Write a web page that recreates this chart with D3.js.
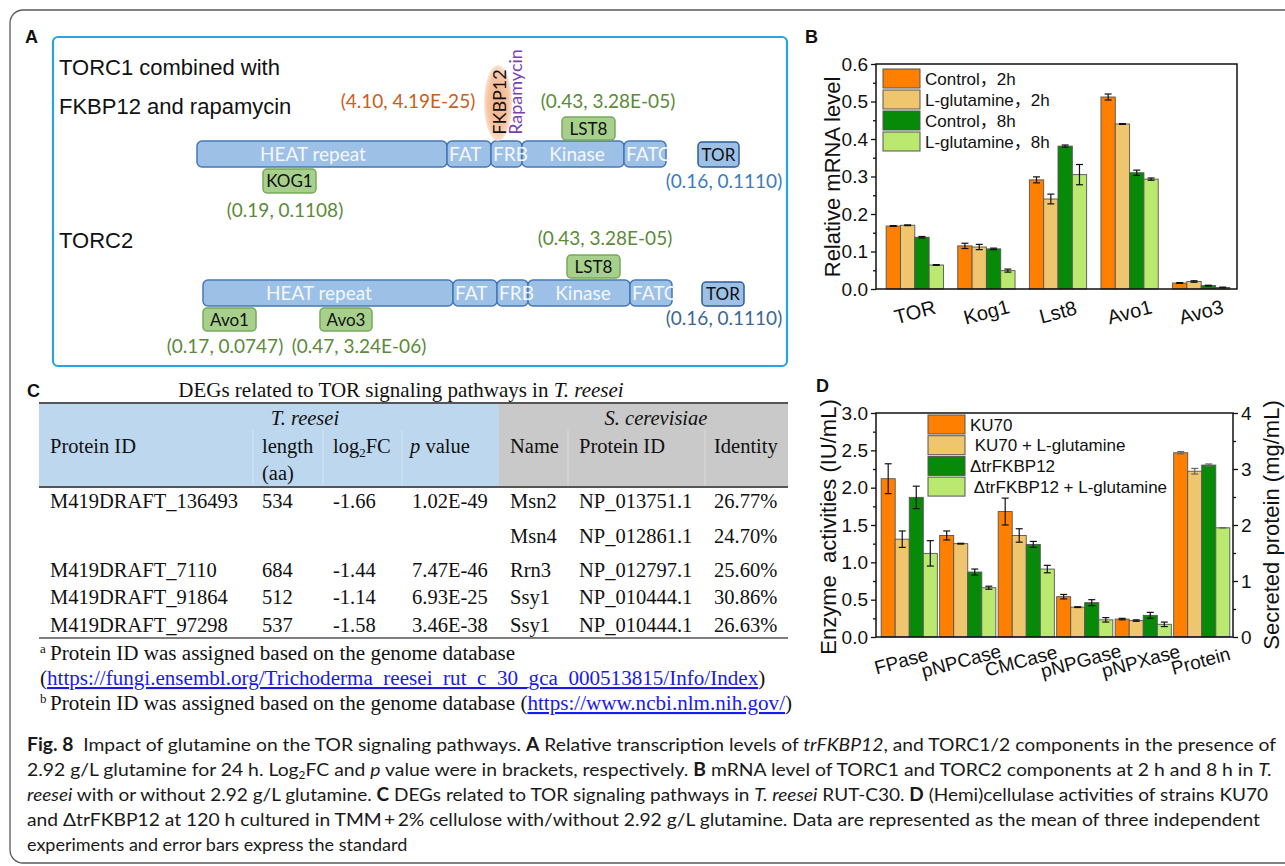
<!DOCTYPE html>
<html>
<head>
<meta charset="utf-8">
<script src="https://cdn.jsdelivr.net/npm/d3@7"></script>
<style>
  body { margin: 0; background: #fff; }
  svg { display: block; }
</style>
</head>
<body>
<script>
// ---------- Panel A: TORC1 / TORC2 components (log2FC, p value) ----------
const domainNames = ["HEAT repeat", "FAT", "FRB", "Kinase", "FATC"];
const domainSpans = [250, 44, 31, 102, 42];
const fkbpStat = "(4.10, 4.19E-25)";
const lst8Stat = "(0.43, 3.28E-05)";
const kog1Stat = "(0.19, 0.1108)";
const torStat = "(0.16, 0.1110)";
const avo1Stat = "(0.17, 0.0747)";
const avo3Stat = "(0.47, 3.24E-06)";

// ---------- Panel B: relative mRNA level ----------
const genes = ["TOR", "Kog1", "Lst8", "Avo1", "Avo3"];
const seriesB = ["Control，2h", "L-glutamine，2h", "Control，8h", "L-glutamine，8h"];
const control2h = [0.168, 0.115, 0.291, 0.512, 0.016];
const glutamine2h = [0.170, 0.112, 0.240, 0.440, 0.020];
const control8h = [0.138, 0.107, 0.381, 0.310, 0.009];
const glutamine8h = [0.064, 0.049, 0.305, 0.293, 0.004];
const control2hErr = [0.001, 0.007, 0.008, 0.008, 0.001];
const glutamine2hErr = [0.001, 0.007, 0.013, 0.001, 0.002];
const control8hErr = [0.002, 0.002, 0.003, 0.007, 0.001];
const glutamine8hErr = [0.001, 0.004, 0.027, 0.003, 0.001];
const ticksB = [0, 0.1, 0.2, 0.3, 0.4, 0.5, 0.6];

// ---------- Panel C: DEGs table ----------
const proteinIds = ["M419DRAFT_136493", "", "M419DRAFT_7110", "M419DRAFT_91864", "M419DRAFT_97298"];
const lengthsAa = ["534", "", "684", "512", "537"];
const log2FCs = ["-1.66", "", "-1.44", "-1.14", "-1.58"];
const pValues = ["1.02E-49", "", "7.47E-46", "6.93E-25", "3.46E-38"];
const yeastNames = ["Msn2", "Msn4", "Rrn3", "Ssy1", "Ssy1"];
const yeastIds = ["NP_013751.1", "NP_012861.1", "NP_012797.1", "NP_010444.1", "NP_010444.1"];
const identities = ["26.77%", "24.70%", "25.60%", "30.86%", "26.63%"];

// ---------- Panel D: enzyme activities and secreted protein ----------
const assays = ["FPase", "pNPCase", "CMCase", "pNPGase", "pNPXase", "Protein"];
const seriesD = ["KU70", " KU70 + L-glutamine", "\u0394trFKBP12", " \u0394trFKBP12 + L-glutamine"];
const ku70 = [2.12, 1.36, 1.68, 0.54, 0.24, 3.29];
const ku70Gln = [1.31, 1.25, 1.36, 0.40, 0.22, 2.96];
const dFkbp12 = [1.87, 0.87, 1.24, 0.46, 0.29, 3.07];
const dFkbp12Gln = [1.12, 0.66, 0.91, 0.23, 0.17, 1.95];
const ku70Err = [0.20, 0.06, 0.18, 0.03, 0.01, 0.02];
const ku70GlnErr = [0.11, 0.005, 0.09, 0.005, 0.01, 0.05];
const dFkbp12Err = [0.15, 0.04, 0.04, 0.04, 0.04, 0.02];
const dFkbp12GlnErr = [0.17, 0.02, 0.05, 0.03, 0.03, 0.0];
const ticksDLeft = [0, 0.5, 1.0, 1.5, 2.0, 2.5, 3.0];
const ticksDRight = [0, 1, 2, 3, 4];

const barColors = ["#ff8000", "#efc56e", "#078a07", "#bbe86e"];

const W = 1285, H = 866;
const svg = d3.select("body").append("svg").attr("width", W).attr("height", H)
  .style("font-family", "'Liberation Sans', Arial, sans-serif");

// outer figure frame
svg.append("rect").attr("x", 10).attr("y", 10).attr("width", 1300).attr("height", 853)
  .attr("rx", 13).attr("fill", "none").attr("stroke", "#5a5a5a").attr("stroke-width", 1.3);

// panel letters
[["A", 25, 43], ["B", 805, 43], ["C", 27, 397], ["D", 816, 392]].forEach(([t, x, y]) => {
  svg.append("text").attr("x", x).attr("y", y).text(t)
    .attr("font-weight", "bold").attr("font-size", 18).attr("fill", "#111");
});

// =================== Panel A ===================
const gA = svg.append("g").style("font-family", "Lato, 'Open Sans', sans-serif");
gA.append("rect").attr("x", 53).attr("y", 37).attr("width", 734).attr("height", 329).attr("rx", 5)
  .attr("fill", "none").attr("stroke", "#27a4e6").attr("stroke-width", 2.2);

const sans0 = "'Liberation Sans', Arial, sans-serif";
gA.append("text").attr("x", 59).attr("y", 75).text("TORC1 combined with")
  .attr("font-size", 22).attr("font-family", sans0).attr("fill", "#111");
gA.append("text").attr("x", 59).attr("y", 114).text("FKBP12 and rapamycin")
  .attr("font-size", 22).attr("font-family", sans0).attr("fill", "#111");
gA.append("text").attr("x", 59).attr("y", 248).text("TORC2")
  .attr("font-size", 22).attr("font-family", sans0).attr("fill", "#111");

// domain bars: cumulative offsets along the protein
const domainStarts = domainSpans.map((d, i) => d3.sum(domainSpans.slice(0, i)));
function drawTorBar(x0, y0, h) {
  const g = gA.append("g");
  g.selectAll("rect").data(domainNames).join("rect")
    .attr("x", (d, i) => x0 + domainStarts[i])
    .attr("y", y0).attr("width", (d, i) => domainSpans[i]).attr("height", h).attr("rx", 5)
    .attr("fill", "#9cc0e6").attr("stroke", "#4677b5").attr("stroke-width", 1.5);
  g.selectAll("text").data(domainNames).join("text")
    .attr("x", (d, i) => i === 0 ? x0 + domainStarts[i] + domainSpans[i] / 2 - 9 :
      (i === 3 ? x0 + domainStarts[i] + domainSpans[i] / 2 + 4 : x0 + domainStarts[i] + 2))
    .attr("y", y0 + h / 2 + 6.5).attr("text-anchor", (d, i) => (i === 0 || i === 3) ? "middle" : "start")
    .attr("font-size", 19).attr("fill", "#f4f7fc").text(d => d);
}
drawTorBar(197, 141, 26);
drawTorBar(203, 280, 26);

function labelBox(x, y, w, h, label, fill, stroke) {
  gA.append("rect").attr("x", x).attr("y", y).attr("width", w).attr("height", h).attr("rx", 4)
    .attr("fill", fill).attr("stroke", stroke).attr("stroke-width", 1.5);
  gA.append("text").attr("x", x + w / 2).attr("y", y + h / 2 + 6).attr("text-anchor", "middle")
    .attr("font-size", 17).attr("fill", "#111").text(label);
}
function stat(x, y, t, c) {
  gA.append("text").attr("x", x).attr("y", y).attr("text-anchor", "middle")
    .attr("font-size", 19).attr("fill", c).text(t);
}
const green = "#a8d08d", greenStroke = "#78a85a";
// TORC1 row
labelBox(263, 169, 53, 24, "KOG1", green, greenStroke);
stat(285, 217, kog1Stat, "#5b8a3a");
labelBox(562, 117, 53, 23, "LST8", green, greenStroke);
stat(608, 108, lst8Stat, "#5b8a3a");
labelBox(698, 142, 41, 25, "TOR", "#9cc0e6", "#2f5c96");
stat(724, 188, torStat, "#3a7cc0");
stat(408, 108, fkbpStat, "#c8601d");

// FKBP12 bound to rapamycin
const defs = svg.append("defs");
const rg = defs.append("radialGradient").attr("id", "fkbpGrad");
rg.append("stop").attr("offset", "0%").attr("stop-color", "#f2b085");
rg.append("stop").attr("offset", "75%").attr("stop-color", "#f6c6a6");
rg.append("stop").attr("offset", "100%").attr("stop-color", "#fbe3d3");
gA.append("ellipse").attr("cx", 498).attr("cy", 103).attr("rx", 14).attr("ry", 38)
  .attr("fill", "url(#fkbpGrad)");
gA.append("text").attr("transform", "translate(506,102) rotate(-90)").attr("text-anchor", "middle")
  .attr("font-size", 18).attr("fill", "#111").text("FKBP12");
gA.append("text").attr("transform", "translate(522,92) rotate(-90)").attr("text-anchor", "middle")
  .attr("font-size", 18).attr("fill", "#7a3fb0").text("Rapamycin");

// TORC2 row
labelBox(567, 255, 53, 23, "LST8", green, greenStroke);
stat(605, 245, lst8Stat, "#5b8a3a");
labelBox(702, 282, 42, 24, "TOR", "#9cc0e6", "#2f5c96");
stat(724, 325, torStat, "#3b6791");
labelBox(203, 308, 53, 23, "Avo1", green, greenStroke);
labelBox(320, 308, 52, 23, "Avo3", green, greenStroke);
stat(225, 353, avo1Stat, "#5b8a3a");
stat(359, 353, avo3Stat, "#5b8a3a");

// =================== Grouped bar helper ===================
function groupedBars(g, cats, seriesVals, seriesErr, xScale, yFor, errColorFor) {
  const sub = d3.scaleBand().domain(d3.range(seriesVals.length)).range([0, xScale.bandwidth()]);
  cats.forEach((c, ci) => {
    const y = yFor(ci);
    seriesVals.forEach((vals, si) => {
      const x = xScale(c) + sub(si);
      g.append("rect").attr("x", x).attr("y", y(vals[ci]))
        .attr("width", sub.bandwidth()).attr("height", y(0) - y(vals[ci]))
        .attr("fill", barColors[si]).attr("stroke", "#555").attr("stroke-width", 0.9);
      const e = seriesErr[si][ci];
      const cx = x + sub.bandwidth() / 2;
      const col = errColorFor(ci);
      const y1 = y(vals[ci] + e), y2 = y(vals[ci] - e);
      g.append("line").attr("x1", cx).attr("x2", cx).attr("y1", y1).attr("y2", y2)
        .attr("stroke", col).attr("stroke-width", 1.2);
      [y1, y2].forEach(yy => g.append("line").attr("x1", cx - 3.5).attr("x2", cx + 3.5)
        .attr("y1", yy).attr("y2", yy).attr("stroke", col).attr("stroke-width", 1.2));
    });
  });
}
function styleAxis(sel, size) {
  sel.select(".domain").remove();
  sel.selectAll(".tick line").attr("stroke", "#111").attr("stroke-width", 1.3);
  sel.selectAll(".tick text").attr("font-size", size).attr("fill", "#111")
    .attr("font-family", "'Liberation Sans', Arial, sans-serif");
}

// =================== Panel B ===================
const gB = svg.append("g");
const bL = 876, bR = 1237, bT = 64, bBt = 289;
const yB = d3.scaleLinear().domain([0, 0.6]).range([bBt, bT]);
const xB = d3.scaleBand().domain(genes).range([879, bR]).paddingInner(0.2).paddingOuter(0.1);
groupedBars(gB, genes, [control2h, glutamine2h, control8h, glutamine8h],
  [control2hErr, glutamine2hErr, control8hErr, glutamine8hErr], xB, () => yB, () => "#111");
const axB = gB.append("g").attr("transform", `translate(${bL},0)`)
  .call(d3.axisLeft(yB).tickValues(ticksB).tickFormat(d3.format(".1f")).tickSize(5).tickPadding(3));
styleAxis(axB, 19);
const axBm = gB.append("g").attr("transform", `translate(${bL},0)`)
  .call(d3.axisLeft(yB).tickValues(ticksB.slice(0, -1).map(t => t + 0.05)).tickFormat("").tickSize(3));
styleAxis(axBm, 19);
gB.append("rect").attr("x", bL).attr("y", bT).attr("width", bR - bL).attr("height", bBt - bT)
  .attr("fill", "none").attr("stroke", "#111").attr("stroke-width", 1.5);
gB.append("text").attr("transform", "translate(832,177) rotate(-90)").attr("text-anchor", "middle")
  .attr("dominant-baseline", "central").attr("font-size", 22).attr("fill", "#111").text("Relative mRNA level");
genes.forEach(g0 => {
  gB.append("text").attr("transform", `translate(${xB(g0) + xB.bandwidth() / 2},312) rotate(-15)`)
    .attr("text-anchor", "middle").attr("dominant-baseline", "central")
    .attr("font-size", 20).attr("fill", "#111").text(g0);
});
seriesB.forEach((s, i) => {
  const yy = 69 + i * 21;
  gB.append("rect").attr("x", 883).attr("y", yy).attr("width", 37).attr("height", 19)
    .attr("fill", barColors[i]).attr("stroke", "#555").attr("stroke-width", 1);
  gB.append("text").attr("x", 925).attr("y", yy + 15.5).attr("font-size", 17).attr("fill", "#111")
    .attr("font-family", "'Liberation Sans', 'Noto Sans CJK SC', sans-serif").text(s);
});

// =================== Panel D ===================
const gD = svg.append("g");
const dL = 876, dR = 1233, dT = 413, dBt = 637;
const yDL = d3.scaleLinear().domain([0, 3]).range([dBt, dT]);
const yDR = d3.scaleLinear().domain([0, 4]).range([dBt, dT]);
const xD = d3.scaleBand().domain(assays).range([880, 1231]).paddingInner(0.04).paddingOuter(0.02);
groupedBars(gD, assays, [ku70, ku70Gln, dFkbp12, dFkbp12Gln],
  [ku70Err, ku70GlnErr, dFkbp12Err, dFkbp12GlnErr], xD,
  ci => assays[ci] === "Protein" ? yDR : yDL,
  ci => assays[ci] === "Protein" ? "#666" : "#111");
const axDL = gD.append("g").attr("transform", `translate(${dL},0)`)
  .call(d3.axisLeft(yDL).tickValues(ticksDLeft).tickFormat(d3.format(".1f")).tickSize(5).tickPadding(3));
styleAxis(axDL, 19);
const axDLm = gD.append("g").attr("transform", `translate(${dL},0)`)
  .call(d3.axisLeft(yDL).tickValues(ticksDLeft.slice(0, -1).map(t => t + 0.25)).tickFormat("").tickSize(3));
styleAxis(axDLm, 19);
const axDR = gD.append("g").attr("transform", `translate(${dR},0)`)
  .call(d3.axisRight(yDR).tickValues(ticksDRight).tickFormat(d3.format("d")).tickSize(5).tickPadding(3));
styleAxis(axDR, 19);
const axDRm = gD.append("g").attr("transform", `translate(${dR},0)`)
  .call(d3.axisRight(yDR).tickValues(ticksDRight.slice(0, -1).map(t => t + 0.5)).tickFormat("").tickSize(3));
styleAxis(axDRm, 19);
gD.append("rect").attr("x", dL).attr("y", dT).attr("width", dR - dL).attr("height", dBt - dT)
  .attr("fill", "none").attr("stroke", "#111").attr("stroke-width", 1.5);
gD.append("text").attr("transform", "translate(828,527) rotate(-90)").attr("text-anchor", "middle")
  .attr("dominant-baseline", "central").attr("font-size", 22).attr("fill", "#111")
  .style("white-space", "pre").text("Enzyme  activities (IU/mL)");
gD.append("text").attr("transform", "translate(1271,525) rotate(-90)").attr("text-anchor", "middle")
  .attr("dominant-baseline", "central").attr("font-size", 22).attr("fill", "#111").text("Secreted protein (mg/mL)");
assays.forEach((a, i) => {
  gD.append("text").attr("transform", `translate(${xD(a) + xD.bandwidth() / 2 - (8 - i * 1.4)},661) rotate(-15)`)
    .attr("text-anchor", "middle").attr("dominant-baseline", "central")
    .attr("font-size", 19).attr("fill", "#111").text(a);
});
seriesD.forEach((s, i) => {
  const yy = 415 + i * 20.7;
  gD.append("rect").attr("x", 928).attr("y", yy).attr("width", 37).attr("height", 19)
    .attr("fill", barColors[i]).attr("stroke", "#555").attr("stroke-width", 1);
  gD.append("text").attr("x", 970).attr("y", yy + 15.5).attr("font-size", 17).attr("fill", "#111")
    .style("white-space", "pre").text(s);
});

// =================== Panel C: table ===================
const gC = svg.append("g").style("font-family", "'Liberation Serif', 'Times New Roman', serif")
  .attr("fill", "#111");
const tL = 39, tR = 788, tSplit = 499;
const title = gC.append("text").attr("x", 401).attr("y", 397).attr("text-anchor", "middle").attr("font-size", 21);
title.append("tspan").text("DEGs related to TOR signaling pathways in ");
title.append("tspan").attr("font-style", "italic").text("T. reesei");

gC.append("rect").attr("x", tL).attr("y", 404).attr("width", tSplit - tL).attr("height", 83).attr("fill", "#bdd7ee");
gC.append("rect").attr("x", tSplit).attr("y", 404).attr("width", tR - tSplit).attr("height", 83).attr("fill", "#c9c9c9");
// faint column separators in the header
[253, 323, 402, 568, 705].forEach(x => gC.append("line").attr("x1", x).attr("x2", x).attr("y1", 430).attr("y2", 487)
  .attr("stroke", "#fff").attr("stroke-opacity", 0.35).attr("stroke-width", 1));
gC.append("line").attr("x1", tL).attr("x2", tR).attr("y1", 403).attr("y2", 403).attr("stroke", "#555").attr("stroke-width", 2);
gC.append("line").attr("x1", tL).attr("x2", tR).attr("y1", 487).attr("y2", 487).attr("stroke", "#555").attr("stroke-width", 2);
gC.append("line").attr("x1", tL).attr("x2", tR).attr("y1", 638).attr("y2", 638).attr("stroke", "#555").attr("stroke-width", 1.5);

const fs = 20.5;
gC.append("text").attr("x", 305).attr("y", 425).attr("text-anchor", "middle").attr("font-style", "italic").attr("font-size", fs).text("T. reesei");
gC.append("text").attr("x", 656).attr("y", 425).attr("text-anchor", "middle").attr("font-style", "italic").attr("font-size", fs).text("S. cerevisiae");
const colX = [50, 262, 333, 411, 510, 579, 714];
gC.append("text").attr("x", colX[0]).attr("y", 453).attr("font-size", fs).text("Protein ID");
gC.append("text").attr("x", colX[1]).attr("y", 453).attr("font-size", fs).text("length");
gC.append("text").attr("x", colX[1]).attr("y", 480).attr("font-size", fs).text("(aa)");
const fcH = gC.append("text").attr("x", colX[2]).attr("y", 453).attr("font-size", fs);
fcH.append("tspan").text("log");
fcH.append("tspan").attr("font-size", 13).attr("dy", 4).text("2");
fcH.append("tspan").attr("dy", -4).text("FC");
const pH = gC.append("text").attr("x", colX[3] - 1).attr("y", 453).attr("font-size", fs);
pH.append("tspan").attr("font-style", "italic").text("p");
pH.append("tspan").text(" value");
gC.append("text").attr("x", colX[4]).attr("y", 453).attr("font-size", fs).text("Name");
gC.append("text").attr("x", colX[5]).attr("y", 453).attr("font-size", fs).text("Protein ID");
gC.append("text").attr("x", colX[6]).attr("y", 453).attr("font-size", fs).text("Identity");

const rowY = [508, 543, 577, 604, 632];
const columns = [proteinIds, lengthsAa, log2FCs, pValues, yeastNames, yeastIds, identities];
columns.forEach((col, ci) => {
  col.forEach((v, ri) => {
    if (v) gC.append("text").attr("x", colX[ci] + (ci === 3 ? 1 : 0)).attr("y", rowY[ri]).attr("font-size", fs).text(v);
  });
});

// footnotes
function footnote(y, sup, parts) {
  if (sup) gC.append("text").attr("x", 40).attr("y", y - 7).attr("font-size", 13).text(sup);
  const t = gC.append("text").attr("x", sup ? 50 : 40).attr("y", y).attr("font-size", 21.1);
  parts.forEach(([s, link]) => {
    const sp = t.append("tspan").text(s);
    if (link) sp.attr("fill", "#1a1aee").attr("text-decoration", "underline");
  });
}
footnote(660, "a", [["Protein ID was assigned based on the genome database"]]);
footnote(685, "", [["("], ["https://fungi.ensembl.org/Trichoderma_reesei_rut_c_30_gca_000513815/Info/Index", true], [")"]]);
footnote(710, "b", [["Protein ID was assigned based on the genome database ("], ["https://www.ncbi.nlm.nih.gov/", true], [")"]]);

// =================== Caption ===================
const captionLines = [
  [["Fig. 8", "b"], ["  Impact of glutamine on the TOR signaling pathways. "], ["A", "b"], [" Relative transcription levels of "], ["trFKBP12", "i"], [", and TORC1/2 components in the presence of"]],
  [["2.92 g/L glutamine for 24 h. Log"], ["2", "sub"], ["FC and ", "up"], ["p", "i"], [" value were in brackets, respectively. "], ["B", "b"], [" mRNA level of TORC1 and TORC2 components at 2 h and 8 h in "], ["T.", "i"]],
  [["reesei", "i"], [" with or without 2.92 g/L glutamine. "], ["C", "b"], [" DEGs related to TOR signaling pathways in "], ["T. reesei", "i"], [" RUT-C30. "], ["D", "b"], [" (Hemi)cellulase activities of strains KU70"]],
  [["and \u0394trFKBP12 at 120 h cultured in TMM\u2009+\u20092% cellulose with/without 2.92 g/L glutamine. Data are represented as the mean of three independent"]],
  [["experiments and error bars express the standard"]]
];
const captionEnds = [1276, 1272, 1268, 1260, null];
const gCap = svg.append("g").style("font-family", "Lato, 'Open Sans', sans-serif");
captionLines.forEach((line, i) => {
  const t = gCap.append("text").attr("x", 27).attr("y", 751 + i * 25).attr("font-size", 18)
    .attr("fill", "#1a1a1a").style("white-space", "pre");
  if (captionEnds[i]) t.attr("textLength", captionEnds[i] - 27).attr("lengthAdjust", "spacingAndGlyphs");
  line.forEach(([s, st]) => {
    const sp = t.append("tspan").text(s);
    if (st === "b") sp.attr("font-weight", "bold");
    if (st === "i") sp.attr("font-style", "italic");
    if (st === "sub") sp.attr("font-size", 11).attr("dy", 3);
    if (st === "up") sp.attr("dy", -3);
  });
});
</script>
</body>
</html>
